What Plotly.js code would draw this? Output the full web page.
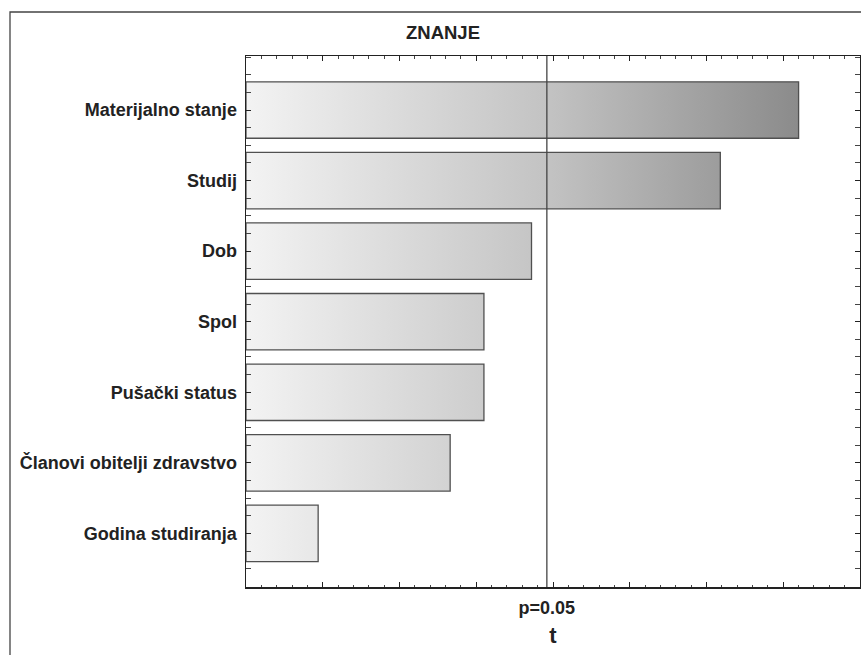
<!DOCTYPE html>
<html>
<head>
<meta charset="utf-8">
<script src="https://cdn.plot.ly/plotly-3.0.1.min.js"></script>
<style>html,body{margin:0;padding:0;background:#fff;}#chart{width:861px;height:655px;}</style>
</head>
<body>
<div id="chart"></div>
<script>
// Data (t values of standardized effects)
const categories = ["Materijalno stanje", "Studij", "Dob", "Spol", "Pušački status", "Članovi obitelji zdravstvo", "Godina studiranja"];
const tValues = [3.60, 3.09, 1.86, 1.55, 1.55, 1.33, 0.47];
const pLineValue = 1.96;
const pLineLabel = "p=0.05";
const chartTitle = "ZNANJE";
const xTitle = "t";

const barHalf = 0.4;
const grad = {type: 'horizontal', colorscale: [[0, '#f3f3f3'], [0.49, '#c3c3c3'], [0.9, '#8b8b8b'], [1, '#808080']], start: 0, stop: 4};

const traces = categories.map((c, i) => ({
  type: 'scatter', mode: 'lines',
  x: [0, tValues[i], tValues[i], 0, 0],
  y: [i - barHalf, i - barHalf, i + barHalf, i + barHalf, i - barHalf],
  fill: 'toself',
  fillgradient: grad,
  line: {color: '#505050', width: 1.3},
  hoverinfo: 'skip', showlegend: false
}));

// invisible trace for xaxis2 (label axis)
traces.push({type: 'scatter', x: [pLineValue], y: [0], xaxis: 'x2', mode: 'markers', marker: {opacity: 0}, hoverinfo: 'skip', showlegend: false});

const font = {family: 'Liberation Sans, Arial, sans-serif', color: '#222222'};

const layout = {
  width: 861, height: 655,
  margin: {l: 246, r: 1, t: 56, b: 68},
  paper_bgcolor: '#ffffff', plot_bgcolor: '#ffffff',
  font: font,
  title: {text: '<b>' + chartTitle + '</b>', x: 443 / 861, xref: 'container', xanchor: 'center', y: 1 - 33 / 655, yref: 'container', yanchor: 'middle', font: {size: 18.5, family: font.family, color: '#222'}},
  xaxis: {
    range: [0, 4], showgrid: false, zeroline: false, showline: true, linecolor: '#222', linewidth: 1.5,
    mirror: 'allticks', ticks: 'inside', ticklen: 5, tickcolor: '#222', dtick: 0.5, tick0: 0,
    showticklabels: false,
    minor: {dtick: 0.1, tick0: 0, ticks: 'inside', ticklen: 2.5, tickcolor: '#444', showgrid: false}
  },
  xaxis2: {
    overlaying: 'x', matches: 'x', side: 'bottom', showgrid: false, zeroline: false, showline: false,
    tickmode: 'array', tickvals: [pLineValue], ticktext: ['<b>' + pLineLabel + '</b>'], ticks: '',
    tickfont: {size: 18, family: font.family, color: '#222'},
    ticklabelstandoff: 8,
    title: {text: '<b>' + xTitle + '</b>', font: {size: 22, family: font.family, color: '#222'}, standoff: 10}
  },
  yaxis: {
    range: [6.76, -0.766], showgrid: false, zeroline: false, showline: true, linecolor: '#222', linewidth: 1.5,
    mirror: 'allticks', ticks: 'inside', ticklen: 5, tickcolor: '#222',
    tickmode: 'array', tickvals: categories.map((c, i) => i), ticktext: categories.map(c => '<b>' + c + '</b>'),
    tickfont: {size: 18, family: font.family, color: '#222'},
    ticklabelstandoff: 4,
    minor: {tickmode: 'linear', dtick: 0.25, tick0: 0, ticks: 'inside', ticklen: 2.5, tickcolor: '#444', showgrid: false}
  },
  shapes: [
    {type: 'line', xref: 'x', yref: 'paper', x0: pLineValue, x1: pLineValue, y0: 0, y1: 1, line: {color: '#444', width: 1.3}},
    {type: 'rect', xref: 'paper', yref: 'paper', x0: (10 - 246) / 614, x1: 1.2, y0: -0.3, y1: (587 - 12) / 531, line: {color: '#444', width: 1.3}, fillcolor: 'rgba(0,0,0,0)', layer: 'below'}
  ]
};

Plotly.newPlot('chart', traces, layout, {displayModeBar: false, staticPlot: true});
</script>
</body>
</html>
